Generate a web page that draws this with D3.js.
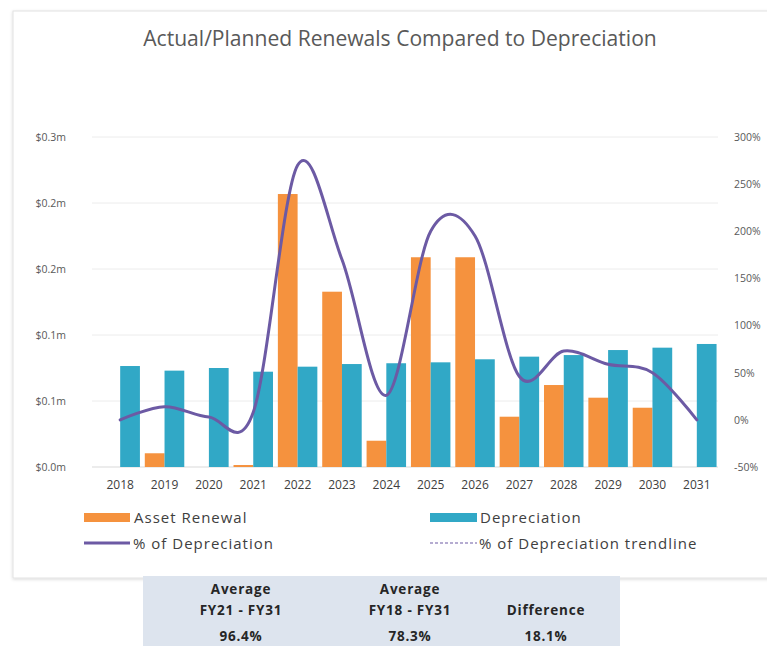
<!DOCTYPE html>
<html><head><meta charset="utf-8">
<script src="https://cdn.jsdelivr.net/npm/d3@7"></script>
<style>
body{margin:0;background:#fff;}
svg{display:block;font-family:"Open Sans",sans-serif;}
</style></head>
<body><svg id="c" width="767" height="646"></svg>
<script>
const years = ["2018","2019","2020","2021","2022","2023","2024","2025","2026","2027","2028","2029","2030","2031"];
const assetRenewal = [0, 0.0104, 0, 0.0015, 0.2068, 0.1328, 0.0199, 0.1589, 0.1589, 0.0381, 0.0621, 0.0525, 0.0449, 0];
const depreciation = [0.0765, 0.0730, 0.0750, 0.0722, 0.0760, 0.0780, 0.0786, 0.0793, 0.0816, 0.0836, 0.0848, 0.0886, 0.0904, 0.0932];
const pctOfDepreciation = [0, 14, 3, 8, 270, 170, 26, 200, 195, 46, 73, 59, 50, 0];
const leftTicks = [0, 0.05, 0.10, 0.15, 0.20, 0.25];
const leftTickLabels = ["$0.0m","$0.1m","$0.1m","$0.2m","$0.2m","$0.3m"];
const rightTicks = [-50, 0, 50, 100, 150, 200, 250, 300];
const rightTickLabels = ["-50%","0%","50%","100%","150%","200%","250%","300%"];
const tableHeaders1 = ["Average","Average",""];
const tableHeaders2 = ["FY21 - FY31","FY18 - FY31","Difference"];
const tableValues = ["96.4%","78.3%","18.1%"];
const title = "Actual/Planned Renewals Compared to Depreciation";

const svg = d3.select("#c");
const C_OR = "#F5923E", C_TE = "#31A8C6", C_PU = "#6C5AA4";

// card
const defs = svg.append("defs");
const f = defs.append("filter").attr("id","sh").attr("x","-5%").attr("y","-5%").attr("width","110%").attr("height","110%");
f.append("feDropShadow").attr("dx",0).attr("dy",1).attr("stdDeviation",1.5).attr("flood-color","#000").attr("flood-opacity",0.15);
svg.append("rect").attr("x",13).attr("y",11).attr("width",780).attr("height",567)
  .attr("fill","#fff").attr("stroke","#e2e2e2").attr("filter","url(#sh)");

// title
const t = svg.append("text").attr("x",400).attr("y",46).attr("text-anchor","middle")
  .attr("fill","#595959").attr("font-size",18).text(title);
const tw = t.node().getComputedTextLength();
t.attr("font-size", 18*514/tw);

const x = d3.scaleBand().domain(years).range([98,719]).paddingInner(0.11).paddingOuter(0.055);
const xs = d3.scaleBand().domain(["a","d"]).range([0,x.bandwidth()]);
const yL = d3.scaleLinear().domain([0,0.25]).range([467,137]);
const yR = d3.scaleLinear().domain([-50,300]).range([467,137]);

// gridlines
svg.append("g").selectAll("line").data(leftTicks).join("line")
  .attr("x1",92).attr("x2",718).attr("y1",d=>yL(d)).attr("y2",d=>yL(d))
  .attr("stroke",(d)=>d===0?"#d9d9d9":"#ececec").attr("stroke-width",1);

// left axis
const axL = d3.axisLeft(yL).tickValues(leftTicks).tickSize(0).tickPadding(0)
  .tickFormat((d,i)=>leftTickLabels[i]);
svg.append("g").attr("transform","translate(66,0)").call(axL)
  .call(g=>g.select(".domain").remove())
  .call(g=>g.selectAll("text").attr("fill","#595959").attr("font-size",10.5).attr("font-family","Open Sans"));

// right axis
const axR = d3.axisRight(yR).tickValues(rightTicks).tickSize(0).tickPadding(0)
  .tickFormat((d,i)=>rightTickLabels[i]);
svg.append("g").attr("transform","translate(734,0)").call(axR)
  .call(g=>g.select(".domain").remove())
  .call(g=>g.selectAll("text").attr("fill","#595959").attr("font-size",10.5).attr("font-family","Open Sans"));

// x axis
const axX = d3.axisBottom(x).tickSize(0).tickPadding(0);
svg.append("g").attr("transform","translate(0,480)").call(axX)
  .call(g=>g.select(".domain").remove())
  .call(g=>g.selectAll("text").attr("fill","#404040").attr("font-size",12).attr("font-family","Open Sans"));

// bars
const gb = svg.append("g");
gb.selectAll("rect.a").data(years).join("rect").attr("class","a")
  .attr("x",d=>x(d)+xs("a")).attr("width",xs.bandwidth())
  .attr("y",(d,i)=>yL(assetRenewal[i])).attr("height",(d,i)=>yL(0)-yL(assetRenewal[i]))
  .attr("fill",C_OR);
gb.selectAll("rect.d").data(years).join("rect").attr("class","d")
  .attr("x",d=>x(d)+xs("d")).attr("width",xs.bandwidth())
  .attr("y",(d,i)=>yL(depreciation[i])).attr("height",(d,i)=>yL(0)-yL(depreciation[i]))
  .attr("fill",C_TE);

// line
const line = d3.line().x((d,i)=>x(years[i])+x.bandwidth()/2).y(d=>yR(d))
  .curve(d3.curveCatmullRom.alpha(0));
svg.append("path").datum(pctOfDepreciation).attr("d",line)
  .attr("fill","none").attr("stroke",C_PU).attr("stroke-width",3).attr("stroke-linecap","round");

// legend
const lg = svg.append("g").attr("font-size",15).attr("letter-spacing",1).attr("fill","#404040");
lg.append("rect").attr("x",84).attr("y",513).attr("width",46).attr("height",9).attr("fill",C_OR);
lg.append("text").attr("x",134).attr("y",523).text("Asset Renewal");
lg.append("rect").attr("x",430).attr("y",513).attr("width",47).attr("height",9).attr("fill",C_TE);
lg.append("text").attr("x",480).attr("y",523).text("Depreciation");
lg.append("line").attr("x1",84).attr("x2",130).attr("y1",543).attr("y2",543).attr("stroke",C_PU).attr("stroke-width",3);
lg.append("text").attr("x",133).attr("y",549).text("% of Depreciation");
lg.append("line").attr("x1",430).attr("x2",477).attr("y1",543).attr("y2",543).attr("stroke",C_PU).attr("stroke-width",1.2).attr("stroke-dasharray","3,2");
lg.append("text").attr("x",479).attr("y",549).text("% of Depreciation trendline");

// table
svg.append("rect").attr("x",143).attr("y",576).attr("width",477).attr("height",70).attr("fill","#DDE4EE");
const colX = [241,410,546];
const tg = svg.append("g").attr("font-size",13.5).attr("font-weight","bold").attr("letter-spacing",0.8)
  .attr("fill","#262626").attr("text-anchor","middle");
tg.selectAll("text.h1").data(tableHeaders1).join("text").attr("class","h1").attr("x",(d,i)=>colX[i]).attr("y",594).text(d=>d);
tg.selectAll("text.h2").data(tableHeaders2).join("text").attr("class","h2").attr("x",(d,i)=>colX[i]).attr("y",615).text(d=>d);
tg.selectAll("text.v").data(tableValues).join("text").attr("class","v").attr("x",(d,i)=>colX[i]).attr("y",641).text(d=>d);
</script></body></html>
